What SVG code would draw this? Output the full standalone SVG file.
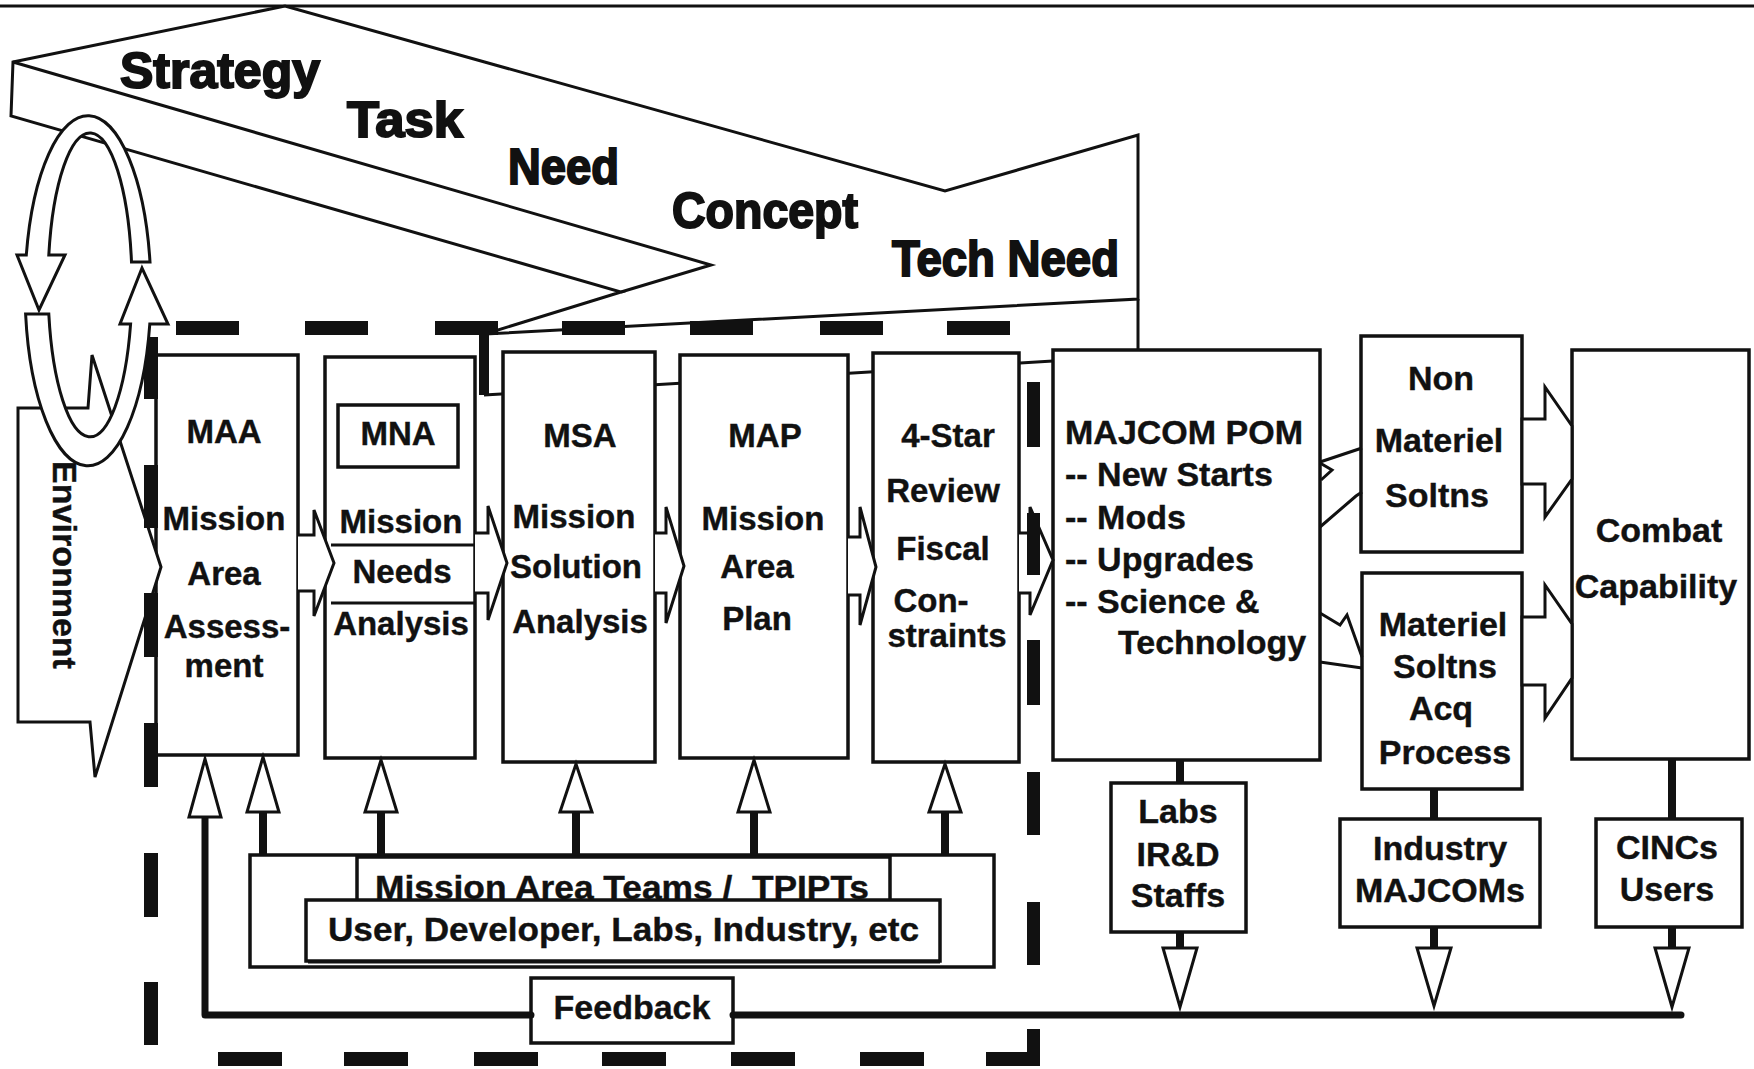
<svg xmlns="http://www.w3.org/2000/svg" width="1754" height="1069" viewBox="0 0 1754 1069">
<style>
.ln{fill:none;stroke:#111;stroke-width:3;stroke-linejoin:miter}
.bx{fill:#fff;stroke:#111;stroke-width:3.5}
.ar{fill:#fff;stroke:#111;stroke-width:3;stroke-linejoin:miter}
.stem{fill:none;stroke:#111;stroke-width:8}
.fb{fill:none;stroke:#111;stroke-width:7;stroke-linecap:round;stroke-linejoin:round}
.dash{fill:#111}
.t{font-family:"Liberation Sans",Arial,Helvetica,sans-serif;font-weight:bold;font-size:33px;fill:#111;stroke:#111;stroke-width:0.4;text-anchor:middle}
.tl{text-anchor:start}
.big{font-size:34px}
.rib{font-size:50px;text-anchor:start;stroke-width:2}
</style>
<rect width="1754" height="1069" fill="#fff"/>
<line x1="0" y1="6" x2="1754" y2="6" stroke="#111" stroke-width="3"/>

<g id="ribbon">
<polygon class="ar" points="13,62 285,6 945,191 1138,135 1138,299 485,334 621,292 11,116"/>
<polyline class="ln" points="13,62 711,265 621,292"/>
<line class="ln" x1="1138" y1="299" x2="1138" y2="350"/>
<text class="t rib" x="120" y="88" textLength="200" lengthAdjust="spacingAndGlyphs">Strategy</text>
<text class="t rib" x="347" y="137" textLength="116" lengthAdjust="spacingAndGlyphs">Task</text>
<text class="t rib" x="508" y="184" textLength="111" lengthAdjust="spacingAndGlyphs">Need</text>
<text class="t rib" x="672" y="228" textLength="186" lengthAdjust="spacingAndGlyphs">Concept</text>
<text class="t rib" x="892" y="276" textLength="227" lengthAdjust="spacingAndGlyphs">Tech Need</text>
</g>

<g id="backplate">
<rect x="479" y="333" width="10" height="62" fill="#111"/>
<line class="ln" x1="484" y1="395" x2="1053" y2="361"/>
</g>

<g id="maa">
<rect class="bx" x="156" y="355" width="142" height="400"/>
<text class="t" x="224" y="443">MAA</text>
<text class="t" x="224" y="530">Mission</text>
<text class="t" x="224" y="585">Area</text>
<text class="t" x="227" y="638">Assess-</text>
<text class="t" x="224" y="677">ment</text>
</g>
<g id="mna">
<rect class="bx" x="325" y="357" width="150" height="401"/>
<rect class="bx" x="338" y="405" width="120" height="62" stroke-width="3"/>
<line class="ln" x1="331" y1="545" x2="475" y2="545"/>
<line class="ln" x1="331" y1="603" x2="475" y2="603"/>
<text class="t" x="398" y="445">MNA</text>
<text class="t" x="401" y="533">Mission</text>
<text class="t" x="402" y="583">Needs</text>
<text class="t" x="401" y="635">Analysis</text>
</g>
<g id="msa">
<rect class="bx" x="503" y="352" width="152" height="410"/>
<text class="t" x="580" y="447">MSA</text>
<text class="t" x="574" y="528">Mission</text>
<text class="t" x="576" y="578">Solution</text>
<text class="t" x="580" y="633">Analysis</text>
</g>
<g id="map">
<rect class="bx" x="680" y="355" width="168" height="403"/>
<text class="t" x="765" y="447">MAP</text>
<text class="t" x="763" y="530">Mission</text>
<text class="t" x="757" y="578">Area</text>
<text class="t" x="757" y="630">Plan</text>
</g>
<g id="fourstar">
<rect class="bx" x="873" y="353" width="146" height="409"/>
<text class="t" x="948" y="447">4-Star</text>
<text class="t" x="943" y="502">Review</text>
<text class="t" x="943" y="560">Fiscal</text>
<text class="t" x="931" y="612">Con-</text>
<text class="t" x="947" y="647">straints</text>
</g>
<g id="majcom">
<rect class="bx" x="1053" y="350" width="267" height="410"/>
<text class="t big tl" x="1065" y="444">MAJCOM POM</text>
<text class="t big tl" x="1065" y="486">-- New Starts</text>
<text class="t big tl" x="1065" y="529">-- Mods</text>
<text class="t big tl" x="1065" y="571">-- Upgrades</text>
<text class="t big tl" x="1065" y="613">-- Science &amp;</text>
<text class="t big tl" x="1118" y="654">Technology</text>
</g>
<g id="nonmateriel">
<rect class="bx" x="1361" y="336" width="161" height="216"/>
<text class="t big" x="1441" y="390">Non</text>
<text class="t big" x="1439" y="452">Materiel</text>
<text class="t big" x="1437" y="507">Soltns</text>
</g>
<g id="materiel">
<rect class="bx" x="1362" y="573" width="160" height="216"/>
<text class="t big" x="1443" y="636">Materiel</text>
<text class="t big" x="1445" y="678">Soltns</text>
<text class="t big" x="1441" y="720">Acq</text>
<text class="t big" x="1445" y="764">Process</text>
</g>
<g id="combat">
<rect class="bx" x="1572" y="350" width="177" height="409"/>
<text class="t big" x="1659" y="542">Combat</text>
<text class="t big" x="1656" y="598">Capability</text>
</g>
<g id="labs">
<rect class="bx" x="1111" y="783" width="135" height="149"/>
<text class="t big" x="1178" y="823">Labs</text>
<text class="t big" x="1178" y="866">IR&amp;D</text>
<text class="t big" x="1178" y="907">Staffs</text>
</g>
<g id="industry">
<rect class="bx" x="1340" y="819" width="200" height="108"/>
<text class="t big" x="1440" y="860">Industry</text>
<text class="t big" x="1440" y="902">MAJCOMs</text>
</g>
<g id="cincs">
<rect class="bx" x="1596" y="819" width="146" height="108"/>
<text class="t big" x="1667" y="859">CINCs</text>
<text class="t big" x="1667" y="901">Users</text>
</g>
<g id="teams">
<rect class="bx" x="250" y="855" width="744" height="112"/>
<rect class="bx" x="357" y="857" width="533" height="48"/>
<text class="t tl" x="375" y="899" textLength="494" lengthAdjust="spacingAndGlyphs" xml:space="preserve">Mission Area Teams /  TPIPTs</text>
<rect class="bx" x="306" y="900" width="634" height="61"/>
<line x1="308" y1="962" x2="940" y2="962" stroke="#111" stroke-width="3"/>
<text class="t big tl" x="328" y="941" textLength="591" lengthAdjust="spacingAndGlyphs">User, Developer, Labs, Industry, etc</text>
</g>
<g id="feedback">
<rect class="bx" x="531" y="978" width="202" height="65"/>
<text class="t big" x="632" y="1019">Feedback</text>
</g>

<g id="connectors">
<path class="ar" d="M298,535 H314 V510 L334,563 L314,616 V591 H298"/>
<path class="ar" d="M475,533 H488 V506 L507,563 L488,620 V593 H475"/>
<path class="ar" d="M655,533 H666 V507 L684,566 L666,623 V593 H655"/>
<path class="ar" d="M848,537 H860 V507 L876,567 L860,625 V595 H848"/>
<path class="ar" d="M1019,533 H1030 V507 L1053,560 L1030,615 V593 H1019"/>
<polygon class="ar" points="1522,419 1545,419 1545,387 1572,426 1572,479 1545,517 1545,484 1522,484"/>
<polygon class="ar" points="1522,617 1545,617 1545,585 1572,624 1572,678 1545,718 1545,685 1522,685"/>
<polyline class="ln" points="1320,462 1362,448"/>
<polyline class="ln" points="1320,463 1332,470 1321,480"/>
<polyline class="ln" points="1320,527 1356,496 1362,492"/>
<polyline class="ln" points="1320,613 1340,625 1347,615 1362,657"/>
<polyline class="ln" points="1320,662 1362,668"/>
<path class="fb" d="M205,812 V1015 H531"/>
<path class="fb" d="M733,1015 H1681"/>
<path class="stem" d="M263,855 V810 M381,855 V810 M576,855 V810 M754,855 V810 M945,855 V810"/>
<path class="stem" d="M1180,760 V783 M1180,932 V950 M1434,789 V819 M1434,927 V950 M1672,759 V819 M1672,927 V950"/>
<polygon class="ar" points="189,817 221,817 205,759"/>
<polygon class="ar" points="247,812 279,812 263,757"/>
<polygon class="ar" points="365,812 397,812 381,760"/>
<polygon class="ar" points="560,812 592,812 576,764"/>
<polygon class="ar" points="738,812 770,812 754,760"/>
<polygon class="ar" points="929,812 961,812 945,764"/>
<polygon class="ar" points="1163,948 1197,948 1180,1007"/>
<polygon class="ar" points="1417,948 1451,948 1434,1006"/>
<polygon class="ar" points="1655,948 1689,948 1672,1007"/>
</g>

<g id="environment">
<polygon class="ar" points="18,408 88,408 92,355 161,567 95,777 90,722 18,722"/>
<text class="t big" transform="translate(53,565) rotate(90)" x="0" y="0">Environment</text>
</g>

<g id="boundary">
<rect class="dash" x="176" y="321" width="63" height="14"/>
<rect class="dash" x="305" y="321" width="63" height="14"/>
<rect class="dash" x="435" y="321" width="63" height="14"/>
<rect class="dash" x="562" y="321" width="63" height="14"/>
<rect class="dash" x="690" y="321" width="63" height="14"/>
<rect class="dash" x="820" y="321" width="63" height="14"/>
<rect class="dash" x="947" y="321" width="63" height="14"/>
<rect class="dash" x="144" y="337" width="14" height="62"/>
<rect class="dash" x="144" y="465" width="14" height="63"/>
<rect class="dash" x="144" y="593" width="14" height="64"/>
<rect class="dash" x="144" y="723" width="14" height="64"/>
<rect class="dash" x="144" y="853" width="14" height="64"/>
<rect class="dash" x="144" y="982" width="14" height="63"/>
<rect class="dash" x="1027" y="382" width="13" height="65"/>
<rect class="dash" x="1027" y="513" width="13" height="62"/>
<rect class="dash" x="1027" y="640" width="13" height="65"/>
<rect class="dash" x="1027" y="772" width="13" height="63"/>
<rect class="dash" x="1027" y="902" width="13" height="63"/>
<rect class="dash" x="1027" y="1029" width="13" height="37"/>
<rect class="dash" x="218" y="1052" width="64" height="14"/>
<rect class="dash" x="344" y="1052" width="64" height="14"/>
<rect class="dash" x="474" y="1052" width="64" height="14"/>
<rect class="dash" x="602" y="1052" width="64" height="14"/>
<rect class="dash" x="731" y="1052" width="64" height="14"/>
<rect class="dash" x="860" y="1052" width="64" height="14"/>
<rect class="dash" x="986" y="1052" width="54" height="14"/>
</g>

<g id="cycle">
<path class="ar" d="M131.5,262 L150,262 A63,176 0 0 0 26.3,255 L17,255 L39,310 L65,255 L48.8,255 A42,152 0 0 1 131.5,262 Z"/>
<path class="ar" d="M25.6,314 A63,176 0 0 0 149.8,324 L168,324 L142,268 L120,324 L130.6,324 A42,152 0 0 1 48.8,314 Z"/>
</g>
</svg>
